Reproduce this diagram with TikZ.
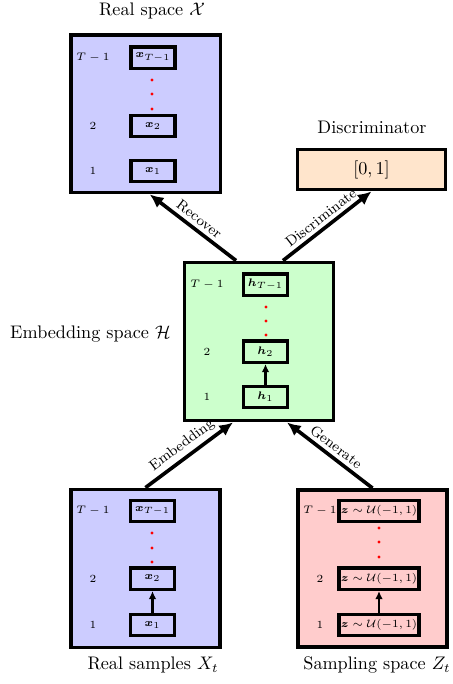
\documentclass[tikz,border=0pt]{standalone}
\usepackage{amsmath,amssymb,bm}
\usetikzlibrary{arrows.meta,fit}

\begin{document}
\begin{tikzpicture}[x=0.55pt,y=-0.55pt,
  space/.style={draw, line width=2.1pt, inner sep=0pt},
  cell/.style={draw, line width=1.9pt, minimum width=24.2pt, minimum height=11.8pt,
               inner sep=1pt, font=\fontsize{6}{7}\selectfont},
  widecell/.style={cell, minimum width=42.4pt},
  idx/.style={font=\fontsize{6}{7}\selectfont},
  edot/.style={circle, fill=red, inner sep=0pt, minimum size=1.9pt},
  flow/.style={-{Latex[length=7.5pt,width=7pt]}, line width=2pt},
  stepflow/.style={-{Latex[length=4.5pt,width=4.2pt]}, line width=1.6pt},
  elabel/.style={sloped, above, font=\footnotesize, inner sep=2pt}]
\useasboundingbox (0,0) rectangle (453,684);

% Real space X
\node[space, fill=blue!20, fit={(71,35) (220.5,192.5)}] (X) {};
\node (Xtitle) at (152,11) {Real space $\mathcal{X}$};
\node[cell] (XT) at (153,57.5) {$\bm{x}_{T-1}$};
\node[cell] (X2) at (153,126) {$\bm{x}_2$};
\node[cell] (X1) at (153,171) {$\bm{x}_1$};
\node[idx] (XlT) at (93,57.5) {$T-1$};
\node[idx] (Xl2) at (93,126) {$2$};
\node[idx] (Xl1) at (93,171) {$1$};
\node[edot] (Xd1) at (152,80) {};
\node[edot] (Xd2) at (152,94) {};
\node[edot] (Xd3) at (152,109) {};

% Discriminator
\node[space, fill=orange!20, fit={(297.5,149.5) (445.5,189.5)}] (D) {};
\node (Dout) at (D.center) {$[0,1]$};
\node (Dtitle) at (372,127.5) {Discriminator};

% Embedding space H
\node[space, fill=green!20, fit={(184.5,262.5) (333.5,420.5)}] (H) {};
\node[anchor=east] (Htitle) at (177,334) {Embedding space $\mathcal{H}$};
\node[cell] (HT) at (265.5,284.5) {$\bm{h}_{T-1}$};
\node[cell] (H2) at (265.5,351.5) {$\bm{h}_2$};
\node[cell] (H1) at (265.5,397) {$\bm{h}_1$};
\node[idx] (HlT) at (207,284.5) {$T-1$};
\node[idx] (Hl2) at (207,351.5) {$2$};
\node[idx] (Hl1) at (207,397) {$1$};
\node[edot] (Hd1) at (266,307) {};
\node[edot] (Hd2) at (266,321) {};
\node[edot] (Hd3) at (266,335) {};
\draw[stepflow] (H1.north) -- (H2.south);

% Real samples X_t
\node[space, fill=blue!20, fit={(71,489.5) (220,647.5)}] (R) {};
\node (Rtitle) at (153,665) {Real samples $X_t$};
\node[cell] (RT) at (152.5,511) {$\bm{x}_{T-1}$};
\node[cell] (R2) at (152.5,578.5) {$\bm{x}_2$};
\node[cell] (R1) at (152.5,625) {$\bm{x}_1$};
\node[idx] (RlT) at (93,511) {$T-1$};
\node[idx] (Rl2) at (93,578.5) {$2$};
\node[idx] (Rl1) at (93,625) {$1$};
\node[edot] (Rd1) at (152,533) {};
\node[edot] (Rd2) at (152,548) {};
\node[edot] (Rd3) at (152,562) {};
\draw[stepflow] (R1.north) -- (R2.south);

% Sampling space Z_t
\node[space, fill=red!20, fit={(298,490) (447,647)}] (Z) {};
\node (Ztitle) at (377,665) {Sampling space $Z_t$};
\node[widecell] (ZT) at (379,511) {$\bm{z}\sim\mathcal{U}(-1,1)$};
\node[widecell] (Z2) at (379,578.5) {$\bm{z}\sim\mathcal{U}(-1,1)$};
\node[widecell] (Z1) at (379,625) {$\bm{z}\sim\mathcal{U}(-1,1)$};
\node[idx] (ZlT) at (320,511) {$T-1$};
\node[idx] (Zl2) at (320,578.5) {$2$};
\node[idx] (Zl1) at (320,625) {$1$};
\node[edot] (Zd1) at (379,528) {};
\node[edot] (Zd2) at (379,542) {};
\node[edot] (Zd3) at (379,557) {};
\draw[stepflow] (Z1.north) -- (Z2.south);

% Flows between the spaces
\draw[flow] ([xshift=-12.6pt]H.north) -- node[elabel] {Recover} ([xshift=2.2pt]X.south);
\draw[flow] ([xshift=13.2pt]H.north) -- node[elabel] {Discriminate} (D.south);
\draw[flow] (R.north) -- node[elabel] {Embedding} ([xshift=-14.3pt]H.south);
\draw[flow] (Z.north) -- node[elabel] {Generate} ([xshift=15.4pt]H.south);
\end{tikzpicture}
\end{document}
